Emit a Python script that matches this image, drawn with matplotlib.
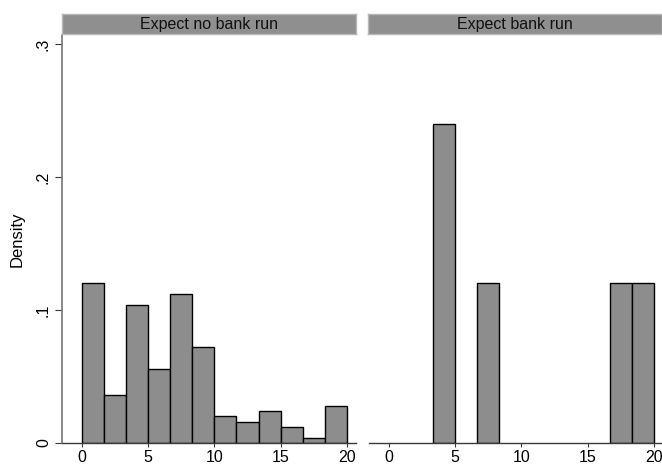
import matplotlib
matplotlib.use("Agg")
import matplotlib.pyplot as plt
import numpy as np

plt.rcParams['font.family'] = ['Liberation Sans', 'DejaVu Sans']

# Histogram bins (width 20/12) shared by both panels
bin_edges = np.linspace(0, 20, 13)

panel_titles = ["Expect no bank run", "Expect bank run"]

# Density per bin
density_no_run = [0.120, 0.036, 0.104, 0.056, 0.112, 0.072,
                  0.020, 0.016, 0.024, 0.012, 0.004, 0.028]
density_run = [0.0, 0.0, 0.240, 0.0, 0.120, 0.0,
               0.0, 0.0, 0.0, 0.0, 0.120, 0.120]

x_ticks = [0, 5, 10, 15, 20]
y_ticks = [0, 0.1, 0.2, 0.3]
y_tick_labels = ["0", ".1", ".2", ".3"]

W, H = 662, 465
fig = plt.figure(figsize=(W / 100, H / 100), dpi=100)

bar_color = "#8d8d8d"
head_color = "#8f8f8f"
axis_color = "#3a3a3a"

panels = [(62, density_no_run, True), (369, density_run, False)]
for (px_left, dens, show_y), title in zip(panels, panel_titles):
    ax = fig.add_axes([px_left / W, 22 / H, 294 / W, 408 / H])
    widths = np.diff(bin_edges)
    for left, w, d in zip(bin_edges[:-1], widths, dens):
        if d > 0:
            ax.bar(left, d, width=w, align="edge", color=bar_color,
                   edgecolor="black", linewidth=1.0, zorder=2)
    ax.set_xlim(-1.52, 20.7)
    ax.set_ylim(0, 0.3068)
    ax.set_xticks(x_ticks)
    ax.set_xticklabels([str(t) for t in x_ticks], fontsize=11.5)
    ax.tick_params(axis="x", length=3, width=0.8, color=axis_color, pad=2)
    for s in ["top", "right"]:
        ax.spines[s].set_visible(False)
    ax.spines["bottom"].set_color(axis_color)
    ax.spines["bottom"].set_linewidth(1.0)
    if show_y:
        ax.set_yticks(y_ticks)
        ax.set_yticklabels(y_tick_labels, fontsize=11.5, rotation=90, va="center")
        ax.tick_params(axis="y", length=5, width=0.8, color=axis_color, pad=3)
        ax.spines["left"].set_color("#777777")
        ax.spines["left"].set_linewidth(1.2)
        ax.set_ylabel("Density", fontsize=12, labelpad=8)
    else:
        ax.spines["left"].set_visible(False)
        ax.set_yticks([])

    # Panel header strip
    hx = px_left - 1 if not show_y else px_left
    hax = fig.add_axes([hx / W, (H - 34) / H, 294 / W, 20 / H])
    hax.set_facecolor(head_color)
    hax.set_xticks([])
    hax.set_yticks([])
    for s in hax.spines.values():
        s.set_color("#b8b8b8")
        s.set_linewidth(1.0)
    hax.text(0.5, 0.48, title, ha="center", va="center", fontsize=11.5,
             color="#111111", transform=hax.transAxes)

fig.savefig("out.png", dpi=100, facecolor="white")
